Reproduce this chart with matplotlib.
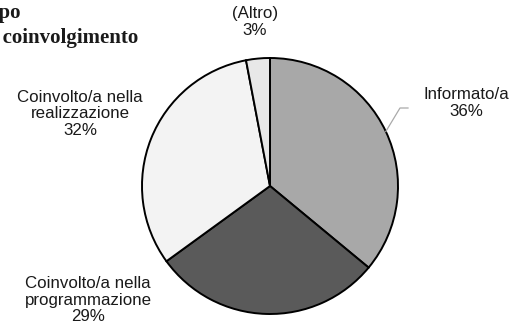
import numpy as np
import matplotlib.pyplot as plt

# shares by type of involvement
labels = ['Informato/a', 'Coinvolto/a nella\nprogrammazione', 'Coinvolto/a nella\nrealizzazione', '(Altro)']
values = [36, 29, 32, 3]
colors = ['#a8a8a8', '#5a5a5a', '#f3f3f3', '#e8e8e8']

W, H = 512, 323
fig = plt.figure(figsize=(W / 100, H / 100), dpi=100)
ax = fig.add_axes([0, 0, 1, 1])

cx, cy, r = 270, H - 186, 128
wedges, _ = ax.pie(values, colors=colors, startangle=90, counterclock=False,
                   center=(cx, cy), radius=r, frame=True,
                   wedgeprops=dict(edgecolor='black', linewidth=1.4))
ax.set_xlim(0, W)
ax.set_ylim(0, H)
ax.set_aspect('equal')
ax.axis('off')

# label spots (pixel coords, y from top)
label_pos = [(466, 103), (88, 300), (80, 114), (255, 22)]
for w, lab, v, (lx, ly) in zip(wedges, labels, values, label_pos):
    ax.text(lx, H - ly, f'{lab}\n{v}%', ha='center', va='center',
            fontsize=12.2, family='Liberation Sans', color='#1a1a1a',
            linespacing=1.1)

# leader line for the first slice
w = wedges[0]
mid = np.deg2rad((w.theta1 + w.theta2) / 2)
ex, ey = cx + r * np.cos(mid), cy + r * np.sin(mid)
ax.plot([ex, 400, 408], [ey, H - 108, H - 108], color='#aaaaaa', lw=0.9)

fig.text(-20 / W, 1 - 3 / H, 'Tipo\ndi coinvolgimento', ha='left', va='top',
         fontsize=15, fontweight='bold', family='Liberation Serif',
         color='#1a1a1a', linespacing=1.3)

fig.savefig('out.png', dpi=100)
